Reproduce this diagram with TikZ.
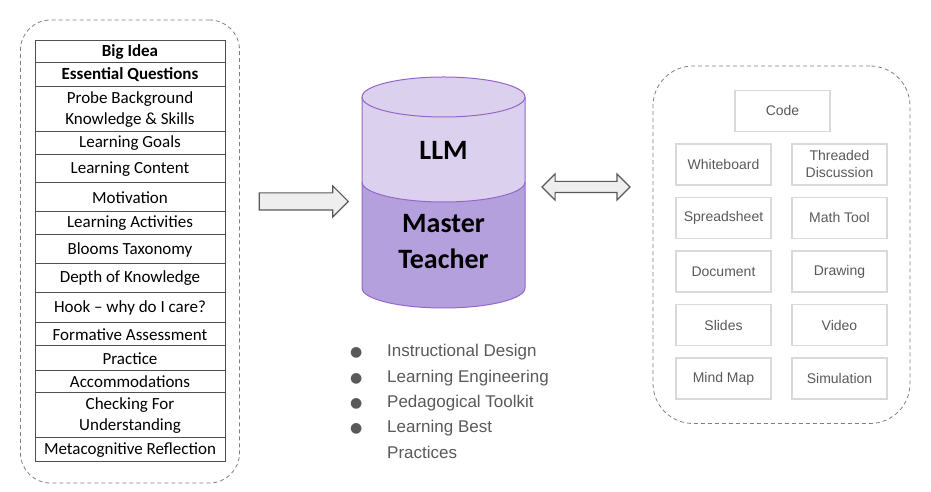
\documentclass[tikz,border=0pt]{standalone}
\usepackage{fontspec}
\setmainfont{Carlito}
\newfontfamily\arialfont{Liberation Sans}
\newfontfamily\symfont{DejaVu Sans}
\usetikzlibrary{shapes.arrows, positioning, fit, calc}

\definecolor{tableline}{HTML}{505050}
\definecolor{dashgray}{HTML}{808080}
\definecolor{toolline}{HTML}{D9D9D9}
\definecolor{textgray}{HTML}{595959}
\definecolor{arrowline}{HTML}{595959}
\definecolor{arrowfill}{HTML}{EEEEEE}
\definecolor{llmfill}{HTML}{DCD0EF}
\definecolor{teacherfill}{HTML}{B3A0DC}
\definecolor{cylline}{HTML}{9466C9}

\newcommand{\bul}{{\symfont\fontsize{14}{14}\selectfont ●}}

\begin{document}
\begin{tikzpicture}[x=1pt, y=1pt,
  row/.style={rectangle, draw=tableline, line width=1pt, minimum width=190pt, inner sep=0pt, outer sep=0pt, align=center, font=\fontsize{17}{21}\selectfont},
  rowbold/.style={row, font=\fontsize{17}{21}\selectfont\bfseries},
  tool/.style={rectangle, draw=toolline, line width=1.1pt, minimum width=95pt, minimum height=41pt, inner sep=0pt, outer sep=0pt, align=center, text=textgray, font=\arialfont\fontsize{14}{17}\selectfont},
  group/.style={draw=dashgray, line width=0.8pt, dash pattern=on 4pt off 3pt},
  blockarrow/.style={draw=arrowline, fill=arrowfill, line width=1.1pt, inner sep=0pt},
  cylfont/.style={font=\fontsize{28}{36}\selectfont\bfseries, align=center},
  node distance=12.5pt and 21pt
]
\useasboundingbox (0,0) rectangle (931,492);

% Lesson plan table
\node[rowbold, minimum height=22pt, anchor=north] (bigidea) at (130,451) {Big Idea};
\node[rowbold, minimum height=24pt, below=0pt of bigidea] (essential) {Essential Questions};
\node[row, minimum height=45pt, below=0pt of essential] (probe) {Probe Background\\Knowledge \& Skills};
\node[row, minimum height=23pt, below=0pt of probe] (goals) {Learning Goals};
\node[row, minimum height=28pt, below=0pt of goals] (content) {Learning Content};
\node[row, minimum height=29pt, below=0pt of content] (motivation) {Motivation};
\node[row, minimum height=23pt, below=0pt of motivation] (activities) {Learning Activities};
\node[row, minimum height=29pt, below=0pt of activities] (blooms) {Blooms Taxonomy};
\node[row, minimum height=29pt, below=0pt of blooms] (depth) {Depth of Knowledge};
\node[row, minimum height=30pt, below=0pt of depth] (hook) {Hook -- why do I care?};
\node[row, minimum height=23pt, below=0pt of hook] (formative) {Formative Assessment};
\node[row, minimum height=25pt, below=0pt of formative] (practice) {Practice};
\node[row, minimum height=22pt, below=0pt of practice] (accommodations) {Accommodations};
\node[row, minimum height=45pt, below=0pt of accommodations] (checking) {Checking For\\Understanding};
\node[row, minimum height=24pt, below=0pt of checking] (metacog) {Metacognitive Reflection};

\node[group, rounded corners=30pt, fit=(bigidea)(metacog), inner xsep=14.5pt, inner ysep=21pt] (lessonplan) {};

% Arrow into the model
\node[blockarrow, single arrow, minimum height=89pt, minimum width=30pt, inner ysep=8pt, single arrow head extend=7pt] (inarrow) at (299.5,290.5) {};

% LLM / Master Teacher cylinder
\fill[teacherfill] (362,310) -- (362,204) arc[start angle=180, end angle=360, x radius=81.5, y radius=20]
  -- (525,310) arc[start angle=0, end angle=-180, x radius=81.5, y radius=20] -- cycle;
\fill[llmfill] (362,395) -- (362,310) arc[start angle=180, end angle=360, x radius=81.5, y radius=20]
  -- (525,395) arc[start angle=0, end angle=180, x radius=81.5, y radius=20] -- cycle;
\draw[cylline, line width=1pt] (362,395) -- (362,204) arc[start angle=180, end angle=360, x radius=81.5, y radius=20] -- (525,395);
\draw[cylline, line width=1pt] (443.5,395) ellipse[x radius=81.5, y radius=20];
\draw[cylline, line width=1pt] (362,310) arc[start angle=180, end angle=360, x radius=81.5, y radius=20];
\node[cylfont] (llm) at (443.5,342) {LLM};
\node[cylfont] (teacher) at (443.5,250) {Master\\Teacher};

% Practices list
\node[anchor=north west, inner sep=0pt, text=textgray, font=\arialfont\fontsize{17}{25.3}\selectfont] (practices) at (350,153)
  {\begin{tabular}{@{}p{37pt}@{}l@{}}
    \bul & Instructional Design\\
    \bul & Learning Engineering\\
    \bul & Pedagogical Toolkit\\
    \bul & Learning Best\\
         & Practices
  \end{tabular}};

% Two-way arrow to the tools
\node[blockarrow, double arrow, minimum height=88pt, minimum width=25pt, inner ysep=5pt, double arrow head extend=7.5pt] (toolarrow) at (586,305) {};

% Tools
\node[tool] (code) at (782.5,381) {Code};
\node[tool] (whiteboard) at (723.5,327.5) {Whiteboard};
\node[tool, right=of whiteboard] (threaded) {Threaded\\Discussion};
\node[tool, below=of whiteboard] (spreadsheet) {Spreadsheet};
\node[tool, below=of threaded] (mathtool) {Math Tool};
\node[tool, below=of spreadsheet] (document) {Document};
\node[tool, below=of mathtool] (drawing) {Drawing};
\node[tool, below=of document] (slides) {Slides};
\node[tool, below=of drawing] (video) {Video};
\node[tool, below=of slides] (mindmap) {Mind Map};
\node[tool, below=of video] (simulation) {Simulation};

\node[group, rounded corners=40pt, fit=(code)(whiteboard)(threaded)(mindmap)(simulation), inner xsep=23pt, inner ysep=24.5pt] (toolbox) {};
\end{tikzpicture}
\end{document}
